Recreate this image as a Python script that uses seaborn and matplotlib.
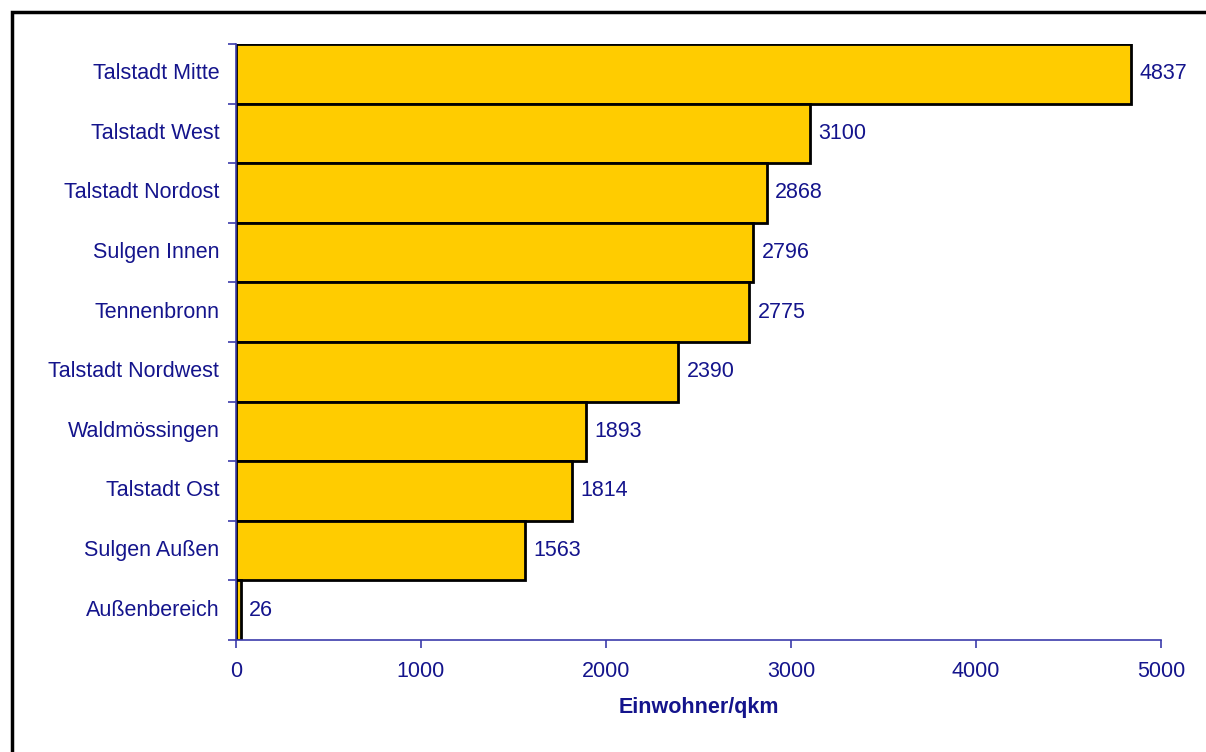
import matplotlib
matplotlib.use("Agg")
import matplotlib.pyplot as plt
import matplotlib.patches as mpatches
import seaborn as sns
import pandas as pd

sns.set_style("white")
plt.rcParams["font.family"] = ["Liberation Sans", "DejaVu Sans"]

districts = ["Talstadt Mitte", "Talstadt West", "Talstadt Nordost", "Sulgen Innen",
             "Tennenbronn", "Talstadt Nordwest", "Waldmössingen", "Talstadt Ost",
             "Sulgen Außen", "Außenbereich"]
density = [4837, 3100, 2868, 2796, 2775, 2390, 1893, 1814, 1563, 26]
x_ticks = [0, 1000, 2000, 3000, 4000, 5000]

navy = "#14148c"
axis_blue = "#3c3cac"
fs = 15.5
df = pd.DataFrame({"Stadtteil": districts, "Einwohner/qkm": density})

fig = plt.figure(figsize=(12.06, 7.52), dpi=100)
ax = fig.add_axes([236 / 1206, 1 - 640 / 752, (1161 - 236) / 1206, (640 - 44) / 752])

sns.barplot(data=df, x="Einwohner/qkm", y="Stadtteil", orient="h", color="#FFCC00",
            width=1.0, edgecolor="black", linewidth=2, saturation=1, ax=ax)

ax.set_xlim(0, 5000)
ax.set_ylim(len(districts) - 0.5, -0.5)
ax.set_xticks(x_ticks)
ax.set_xticklabels([str(t) for t in x_ticks], color=navy, fontsize=fs)
ax.tick_params(axis="x", bottom=True, length=6, width=1.2, color=axis_blue, pad=9,
               direction="out")

# category ticks sit between bars
ax.set_yticks([i - 0.5 for i in range(len(districts) + 1)])
ax.set_yticklabels([])
ax.tick_params(axis="y", left=True, length=6, width=1.2, color=axis_blue, direction="out")
for i, name in enumerate(districts):
    ax.text(-0.018, i, name, transform=ax.get_yaxis_transform(), ha="right", va="center",
            color=navy, fontsize=fs)

ax.set_ylabel("")
ax.set_xlabel("Einwohner/qkm", color=navy, fontsize=fs, fontweight="bold", labelpad=11)

for s in ["top", "right"]:
    ax.spines[s].set_visible(False)
for s in ["left", "bottom"]:
    ax.spines[s].set_color(axis_blue)
    ax.spines[s].set_linewidth(1.2)

for i, v in enumerate(density):
    ax.annotate(str(v), (v, i), xytext=(6, 0), textcoords="offset points",
                ha="left", va="center", color=navy, fontsize=fs)

# outer frame of the chart area
fig.patches.append(mpatches.Rectangle((12 / 1206, -0.1), 1.2, 1 - 12 / 752 + 0.1,
                                      transform=fig.transFigure, fill=False,
                                      edgecolor="black", linewidth=2.5))

fig.savefig("out.png", dpi=100)
